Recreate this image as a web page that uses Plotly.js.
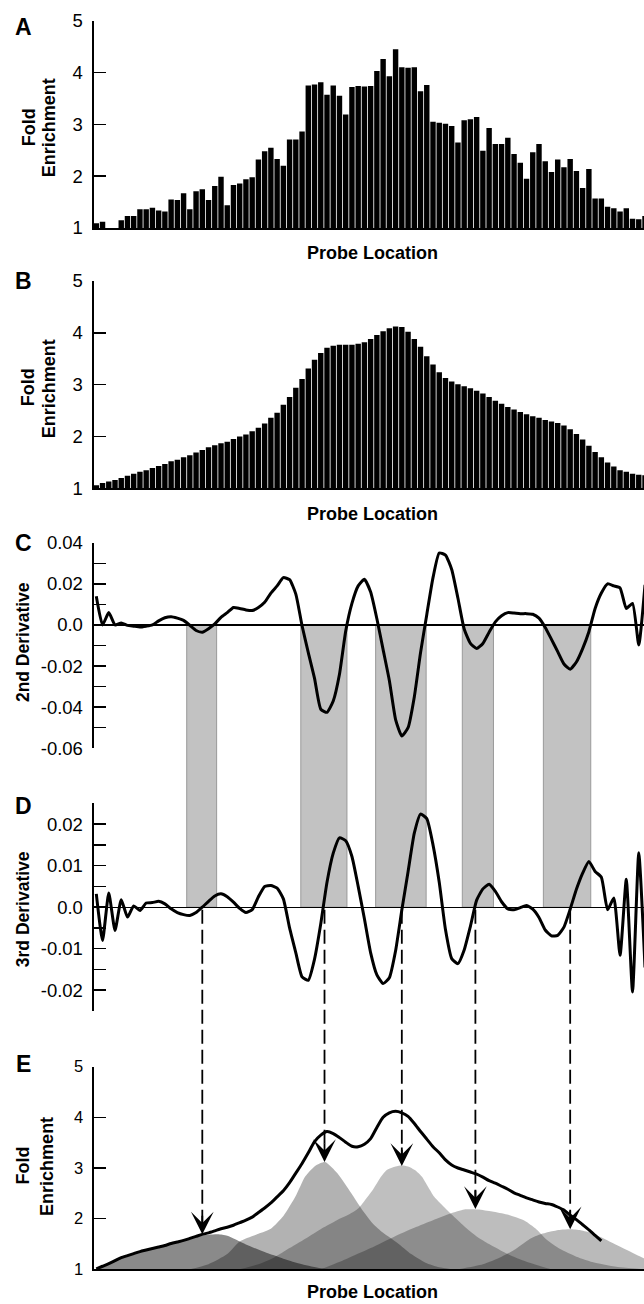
<!DOCTYPE html>
<html><head><meta charset="utf-8">
<script src="https://cdn.plot.ly/plotly-3.0.1.min.js"></script>
<style>html,body{margin:0;padding:0;background:#fff;overflow:hidden}#chart{width:644px;height:1304px}</style>
</head><body><div id="chart"></div>
<script>
// ---------- data ----------
const probeLocation = Array.from({length: 89}, (_, i) => i);

const foldEnrichmentRaw = [1.09,1.12,1.0,1.0,1.15,1.23,1.23,1.36,1.36,1.39,
 1.34,1.32,1.55,1.54,1.67,1.36,1.71,1.75,1.54,1.81,
 1.99,1.44,1.83,1.86,1.94,1.98,2.32,2.48,2.55,2.33,
 2.20,2.71,2.71,2.86,3.75,3.77,3.81,3.57,3.75,3.55,
 3.19,3.72,3.74,3.73,3.74,4.03,4.26,3.93,4.45,4.10,
 4.09,4.10,3.64,3.76,3.05,3.03,3.01,2.97,2.65,3.08,
 3.10,3.14,2.49,2.93,2.62,2.62,2.74,2.43,2.26,1.95,
 2.46,2.62,2.29,2.08,2.32,2.17,2.33,2.10,1.77,2.14,
 1.57,1.57,1.41,1.38,1.32,1.38,1.18,1.17,1.23];

const foldEnrichmentSmoothed = [1.06,1.10,1.13,1.16,1.20,1.24,1.28,1.32,1.35,1.39,
 1.43,1.47,1.52,1.55,1.60,1.64,1.69,1.74,1.79,1.83,
 1.87,1.90,1.95,2.00,2.04,2.10,2.17,2.25,2.36,2.46,
 2.61,2.76,2.94,3.11,3.31,3.48,3.61,3.71,3.75,3.77,
 3.77,3.77,3.79,3.82,3.88,3.96,4.03,4.09,4.12,4.11,
 4.02,3.88,3.73,3.55,3.39,3.24,3.13,3.06,3.01,2.97,
 2.93,2.88,2.83,2.76,2.69,2.63,2.57,2.52,2.47,2.43,
 2.39,2.36,2.32,2.29,2.26,2.21,2.14,2.05,1.94,1.82,
 1.70,1.60,1.50,1.42,1.35,1.32,1.28,1.26,1.25];

const secondDerivative = [0.014,0.0,0.006,0.0,0.001,-0.0002,-0.0006,-0.001,-0.0006,0.0,
 0.002,0.0035,0.004,0.0033,0.0022,-0.0002,-0.0027,-0.0035,-0.0018,0.0005,
 0.0037,0.006,0.0085,0.008,0.0073,0.007,0.0085,0.011,0.0155,0.019,
 0.023,0.022,0.015,-0.0004,-0.0135,-0.026,-0.041,-0.0425,-0.037,-0.024,
 -0.003,0.0105,0.019,0.0222,0.016,0.003,-0.012,-0.027,-0.046,-0.054,
 -0.05,-0.035,-0.0135,0.005,0.023,0.035,0.034,0.027,0.013,-0.002,
 -0.009,-0.0115,-0.009,-0.0035,0.0015,0.0045,0.006,0.0058,0.0055,0.0055,
 0.0052,0.0033,-0.0012,-0.007,-0.013,-0.019,-0.0215,-0.018,-0.0115,-0.0033,
 0.008,0.0155,0.020,0.019,0.018,0.008,0.0105,-0.0097,0.0195];

const thirdDerivative = [0.0032,-0.008,0.0034,-0.0056,0.0018,-0.0024,0.0003,-0.0008,0.001,0.0011,
 0.0014,0.0008,-0.0004,-0.0013,-0.0018,-0.002,-0.0013,0.0,0.0014,0.0027,
 0.0032,0.0025,0.0012,-0.0003,-0.0013,-0.0006,0.0025,0.005,0.0052,0.0046,
 0.002,-0.005,-0.011,-0.0168,-0.0176,-0.0125,-0.004,0.006,0.013,0.0167,
 0.016,0.0122,0.005,-0.0028,-0.011,-0.0163,-0.0184,-0.017,-0.0105,-0.0007,
 0.0085,0.0178,0.0224,0.0213,0.015,0.006,-0.0054,-0.0124,-0.0136,-0.0103,
 -0.0046,0.0017,0.0044,0.0055,0.0038,0.0013,-0.0004,-0.0006,-0.0001,0.0004,
 -0.0005,-0.0025,-0.0055,-0.0069,-0.0068,-0.0048,-0.0005,0.0043,0.0082,0.011,
 0.0086,0.0072,-0.0006,0.0022,-0.0116,0.0067,-0.0204,0.0131,-0.0145];

const fittedProfile = [1.01,1.06,1.11,1.17,1.23,1.27,1.31,1.35,1.38,1.41,
 1.44,1.47,1.51,1.54,1.57,1.61,1.65,1.69,1.72,1.76,
 1.80,1.83,1.87,1.92,1.97,2.03,2.12,2.21,2.31,2.43,
 2.55,2.71,2.90,3.09,3.30,3.52,3.65,3.72,3.68,3.60,
 3.51,3.43,3.42,3.47,3.58,3.80,4.00,4.09,4.12,4.09,
 4.02,3.88,3.72,3.57,3.42,3.30,3.16,3.06,3.00,2.96,
 2.92,2.88,2.82,2.75,2.70,2.64,2.58,2.51,2.46,2.41,
 2.37,2.33,2.30,2.28,2.23,2.17,2.07,1.98,1.88,1.78,
 1.67,1.56];

const peak1X = [0,2,4,6,8,10,12,14,16,18,19.5,21,24,27,30,33,36,38];
const peak1Y = [1.01,1.11,1.23,1.31,1.38,1.44,1.51,1.57,1.64,1.68,1.69,1.66,1.49,1.34,1.21,1.10,1.02,1.0];
const peak2X = [15,18,21,23,26,28,30,32,33.5,35.2,36.7,38.7,40.9,42.5,44.3,46,48.3,50.5,52.8,55,57];
const peak2Y = [1.0,1.1,1.3,1.55,1.70,1.80,2.05,2.45,2.83,3.05,3.12,2.89,2.5,2.2,1.91,1.72,1.52,1.3,1.13,1.04,1.0];
const peak3X = [23,26,28.6,31,34,36.5,38.6,40.5,42,43,44.3,45.5,46.6,48,49,50,51.1,52.2,53.2,54.2,55.6,57,59,61,63,66,69,73];
const peak3Y = [1.0,1.1,1.24,1.42,1.64,1.83,1.97,2.08,2.2,2.35,2.56,2.8,2.96,3.03,3.05,3.03,2.96,2.83,2.63,2.43,2.25,2.08,1.85,1.65,1.5,1.3,1.15,1.0];
const peak4X = [36,40,44,47.7,51,54,56.8,59,61.2,63.5,65.9,68.7,70.5,72.1,74.4,77,80,84,88];
const peak4Y = [1.0,1.2,1.42,1.64,1.82,1.97,2.1,2.18,2.18,2.14,2.08,1.96,1.8,1.6,1.4,1.25,1.13,1.04,1.0];
const peak5X = [58,62,65,67,69.3,71,72.7,74.5,76,77.7,79.5,82.3,85.1,87.8,90];
const peak5Y = [1.0,1.1,1.25,1.38,1.58,1.68,1.74,1.78,1.79,1.77,1.71,1.55,1.38,1.22,1.12];

const negativeBandStart = [14.5, 32.8, 44.8, 58.7, 71.7];
const negativeBandEnd   = [19.3, 40.2, 52.9, 63.7, 79.3];
const peakCenters = [17.0, 36.6, 49.0, 60.8, 76.0];
const peakHeights = [1.69, 3.12, 3.04, 2.19, 1.79];

const foldTicks = [1,2,3,4,5];
const d2Ticks = [-0.06,-0.05,-0.04,-0.03,-0.02,-0.01,0,0.01,0.02,0.03,0.04];
const d2TickText = ['-0.06','','-0.04','','-0.02','','0.0','','0.02','','0.04'];
const d3Ticks = [-0.025,-0.02,-0.015,-0.01,-0.005,0,0.005,0.01,0.015,0.02,0.025];
const d3TickText = ['','-0.02','','-0.01','','0.0','','0.01','','0.02',''];

// ---------- layout ----------
const W = 644, H = 1304;
const FONT = "'Liberation Sans', Arial, Helvetica, sans-serif";
const xDom = [93.6 / W, 1];
const xRange = [-0.433, 87.84];
const py = v => 1 - v / H;

function xAx(anchor, line) {
  return {domain: xDom, range: xRange, anchor: anchor, showline: line, linecolor: '#000', linewidth: 2,
          ticks: '', showticklabels: false, showgrid: false, zeroline: false, fixedrange: true};
}
function yAx(anchor, top, bottom, range, vals, text, size, zl) {
  return {domain: [py(bottom), py(top)], range: range, anchor: anchor, showline: true, linecolor: '#000', linewidth: 2,
          ticks: 'inside', ticklen: 12, tickwidth: 1.5, tickcolor: '#000', tickvals: vals, ticktext: text,
          ticklabelstandoff: 5, tickfont: {family: FONT, size: size, color: '#000'},
          showgrid: false, zeroline: !!zl, zerolinecolor: '#000', zerolinewidth: 1.3, fixedrange: true};
}

const layout = {
  width: W, height: H, autosize: false,
  margin: {l: 0, r: 0, t: 0, b: 0, pad: 0},
  paper_bgcolor: '#fff', plot_bgcolor: 'rgba(0,0,0,0)',
  showlegend: false, bargap: 0.13,
  font: {family: FONT, color: '#000'},
  xaxis: xAx('y', true),
  yaxis: yAx('x', 20.7, 228, [1, 5], foldTicks, foldTicks.map(String), 18.5),
  xaxis2: xAx('y2', true),
  yaxis2: yAx('x2', 281, 488.3, [1, 5], foldTicks, foldTicks.map(String), 18.5),
  xaxis3: xAx('y3', false),
  yaxis3: yAx('x3', 542.7, 748.3, [-0.06, 0.04], d2Ticks, d2TickText, 18.5, true),
  xaxis4: xAx('y4', false),
  yaxis4: yAx('x4', 803.3, 1011, [-0.025, 0.025], d3Ticks, d3TickText, 18.5, true),
  xaxis5: xAx('y5', true),
  yaxis5: yAx('x5', 1066.7, 1269.3, [1, 5], foldTicks, foldTicks.map(String), 16.5),
  shapes: [], annotations: []
};

function toPaper(ax, v) {
  const d = ax.domain, r = ax.range;
  return d[0] + (v - r[0]) / (r[1] - r[0]) * (d[1] - d[0]);
}
const cZero = toPaper(layout.yaxis3, 0);
const dZero = toPaper(layout.yaxis4, 0);

negativeBandStart.forEach((s, i) => {
  layout.shapes.push({type: 'rect', layer: 'below', xref: 'x3', yref: 'paper',
    x0: s, x1: negativeBandEnd[i], y0: dZero, y1: cZero,
    fillcolor: '#c2c2c2', line: {color: '#9a9a9a', width: 1}});
});
peakCenters.forEach((c, i) => {
  layout.shapes.push({type: 'line', layer: 'above', xref: 'x5', yref: 'paper',
    x0: c, x1: c, y0: dZero - 0.002, y1: toPaper(layout.yaxis5, peakHeights[i]) + 0.006,
    line: {color: '#000', width: 1.8, dash: '14px,6px'}});
  layout.annotations.push({xref: 'x5', yref: 'y5', x: c, y: peakHeights[i], ax: 0, ay: -20,
    text: '', showarrow: true, arrowhead: 3, arrowsize: 2.1, arrowwidth: 1.8, arrowcolor: '#000', standoff: 0});
});

function label(text, x, y, size, angle) {
  layout.annotations.push({xref: 'paper', yref: 'paper', x: x / W, y: py(y), text: text,
    showarrow: false, xanchor: 'center', yanchor: 'middle', textangle: angle || 0,
    font: {family: FONT, size: size, color: '#000', weight: 'bold'}});
}
label('A', 23, 27, 23); label('B', 23, 281, 23); label('C', 23, 542.5, 23);
label('D', 23, 805.5, 23); label('E', 23, 1064, 23);
label('Fold', 29.2, 127, 18, -90); label('Enrichment', 48.7, 127.5, 18, -90);
label('Fold', 28.7, 387.5, 18, -90); label('Enrichment', 49.3, 389, 18, -90);
label('2nd Derivative', 22.6, 642.5, 17.5, -90);
label('3rd Derivative', 23.2, 909, 17.5, -90);
label('Fold', 22.6, 1166, 18, -90); label('Enrichment', 46.2, 1166.7, 18, -90);
label('Probe Location', 373, 253, 18); label('Probe Location', 373, 513.5, 18);
label('Probe Location', 373, 1292, 18);

// ---------- traces ----------
const fill = (x, y, a) => ({type: 'scatter', mode: 'lines', x: x, y: y, xaxis: 'x5', yaxis: 'y5',
  line: {width: 0, shape: 'spline', smoothing: 0.6}, fill: 'tozeroy', fillcolor: 'rgba(0,0,0,' + a + ')', hoverinfo: 'skip'});

const traces = [
  {type: 'bar', x: probeLocation, y: foldEnrichmentRaw, xaxis: 'x', yaxis: 'y', marker: {color: '#000', line: {width: 0}}},
  {type: 'bar', x: probeLocation, y: foldEnrichmentSmoothed, xaxis: 'x2', yaxis: 'y2', marker: {color: '#000', line: {width: 0}}},
  {type: 'scatter', mode: 'lines', x: probeLocation, y: secondDerivative, xaxis: 'x3', yaxis: 'y3',
   line: {color: '#000', width: 3, shape: 'spline', smoothing: 0.5}},
  {type: 'scatter', mode: 'lines', x: probeLocation, y: thirdDerivative, xaxis: 'x4', yaxis: 'y4',
   line: {color: '#000', width: 3, shape: 'spline', smoothing: 0.5}},
  {type: 'scatter', mode: 'lines', x: probeLocation.slice(0, fittedProfile.length), y: fittedProfile, xaxis: 'x5', yaxis: 'y5',
   line: {color: '#000', width: 3, shape: 'spline', smoothing: 0.6}},
  fill(peak1X, peak1Y, 0.46),
  fill(peak2X, peak2Y, 0.30),
  fill(peak3X, peak3Y, 0.25),
  fill(peak4X, peak4Y, 0.26),
  fill(peak5X, peak5Y, 0.27)
];

Plotly.newPlot('chart', traces, layout, {staticPlot: true, displayModeBar: false});
</script></body></html>
